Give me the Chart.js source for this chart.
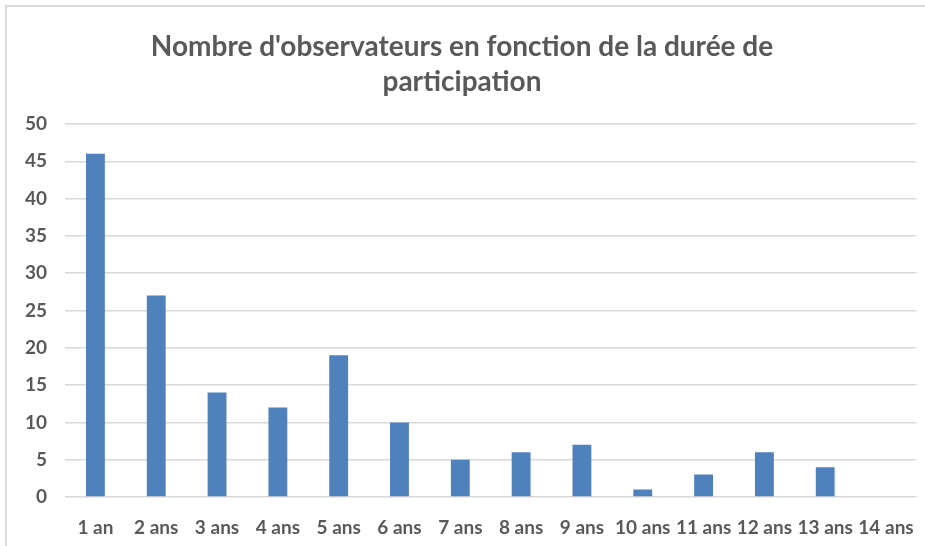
<!DOCTYPE html>
<html lang="fr">
<head>
<meta charset="utf-8">
<script src="https://cdn.jsdelivr.net/npm/chart.js@4"></script>
<style>
  html, body { margin: 0; padding: 0; background: #fff; overflow: hidden; }
  #frame {
    position: absolute; left: 5px; top: 5px; width: 925px; height: 546px;
    border-top: 2px solid #d9d9d9; border-left: 2px solid #d9d9d9;
  }
  #wrap { position: absolute; left: 7px; top: 7px; width: 918px; height: 539px; }
</style>
</head>
<body>
<div id="frame"></div>
<div id="wrap"><canvas id="barChart"></canvas></div>
<script>
// Durée de participation et nombre d'observateurs
const durees = ['1 an', '2 ans', '3 ans', '4 ans', '5 ans', '6 ans', '7 ans',
  '8 ans', '9 ans', '10 ans', '11 ans', '12 ans', '13 ans', '14 ans'];
const observateurs = [46, 27, 14, 12, 19, 10, 5, 6, 7, 1, 3, 6, 4, 0];
const titre = ["Nombre d'observateurs en fonction de la durée de", 'participation'];

const grey = '#595959';
Chart.defaults.font.family = 'Lato, "Open Sans", sans-serif';

const ctx = document.getElementById('barChart').getContext('2d');

new Chart(ctx, {
  type: 'bar',
  data: {
    labels: durees,
    datasets: [
      {
        data: observateurs,
        backgroundColor: '#4f81bd',
        barPercentage: 0.62,
        categoryPercentage: 0.5,
      },
    ],
  },
  options: {
    responsive: true,
    maintainAspectRatio: false,
    animation: false,
    layout: { padding: { left: 0, right: 8, top: 0, bottom: 8 } },
    plugins: {
      legend: { display: false },
      tooltip: { enabled: false },
      title: {
        display: true,
        text: titre,
        color: grey,
        font: { size: 28, weight: 'bold', lineHeight: 1.25 },
        padding: { top: 22, bottom: 25 },
      },
    },
    scales: {
      x: {
        grid: { display: false },
        border: { display: false },
        ticks: {
          color: grey,
          font: { size: 19, weight: 'bold' },
          padding: 11,
          maxRotation: 0,
          autoSkip: false,
        },
        afterFit(scale) { scale.height = 41; },
      },
      y: {
        min: 0,
        max: 50,
        grid: { color: '#d9d9d9', lineWidth: 1.5, drawTicks: false },
        border: { display: false },
        ticks: {
          stepSize: 5,
          color: grey,
          font: { size: 19, weight: 'bold' },
          padding: 18,
        },
        afterFit(scale) { scale.width = 58; },
      },
    },
  },
});
</script>
</body>
</html>
